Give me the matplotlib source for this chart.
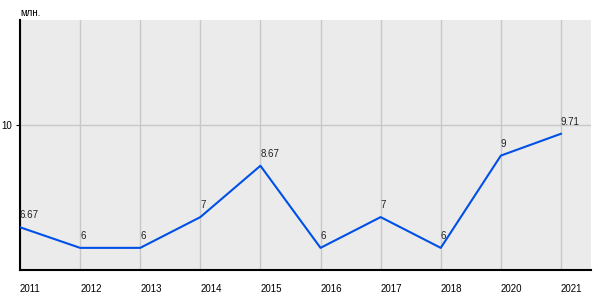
import matplotlib
matplotlib.use('Agg')
import matplotlib.pyplot as plt

years = ['2011', '2012', '2013', '2014', '2015', '2016', '2017', '2018', '2020', '2021']
values = [6.67, 6, 6, 7, 8.67, 6, 7, 6, 9, 9.71]
labels = ['6.67', '6', '6', '7', '8.67', '6', '7', '6', '9', '9.71']

plt.rcParams['font.family'] = ['Liberation Sans', 'DejaVu Sans']

fig = plt.figure(figsize=(6, 3), dpi=100)
ax = fig.add_axes([20 / 600, 30 / 300, 571 / 600, 250 / 300])
ax.set_facecolor('#ebebeb')

x = list(range(len(years)))
ax.plot(x, values, color='#0050e6', linewidth=1.5, zorder=3)

for xi, v, lab in zip(x, values, labels):
    ax.annotate(lab, (xi, v), xytext=(0, 5), textcoords='offset points',
                ha='left', va='bottom', fontsize=7, color='#222222')

ax.set_xlim(0, 9.5)
ax.set_ylim(5.28, 13.41)
ax.set_xticks(x)
ax.set_xticklabels(years, ha='left', fontsize=7)
ax.set_yticks([10])
ax.set_yticklabels(['10'], fontsize=7)
ax.tick_params(axis='x', length=0, pad=10)
ax.tick_params(axis='y', length=3, pad=3)

ax.grid(True, color='#c8c8c8', linewidth=1)
ax.set_axisbelow(True)
for s in ['top', 'right']:
    ax.spines[s].set_visible(False)
ax.spines['left'].set_linewidth(1.5)
ax.spines['bottom'].set_linewidth(1.5)

fig.text(20 / 600, 1 - 13 / 300, 'млн.', fontsize=7, ha='left', va='center')

fig.savefig('out.png', dpi=100)
